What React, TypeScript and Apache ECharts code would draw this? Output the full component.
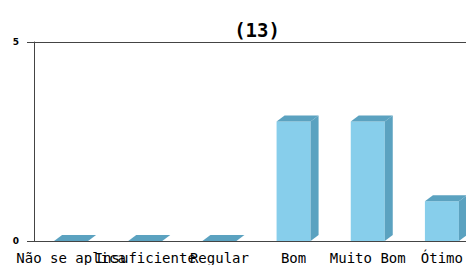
import React, { useEffect, useRef } from "react";
import * as echarts from "echarts";

const categories = ["Não se aplica", "Insuficiente", "Regular", "Bom", "Muito Bom", "Ótimo"];
const values = [0, 0, 0, 3, 3, 1];
const yTicks = [0, 5];
const titleText = "(13)";

export default function App() {
  const ref = useRef<HTMLDivElement>(null);
  useEffect(() => {
    if (!ref.current) return;
    const chart = echarts.init(ref.current, null, { renderer: "svg" });
    const halfW = 17;
    const dx = 8;
    const dy = 6;
    const front = "#87ceeb";
    const dark = "#5ba2c0";
    chart.setOption({
      animation: false,
      title: {
        text: titleText,
        left: 252,
        top: 15,
        textAlign: "center",
        textStyle: { fontFamily: "DejaVu Sans Mono", fontSize: 19, fontWeight: "bold", color: "#000" },
      },
      grid: { left: 34, top: 42, bottom: 24, width: 445, outerBoundsMode: "none", containLabel: false },
      xAxis: {
        type: "category",
        data: categories,
        axisLine: { show: true, lineStyle: { color: "#444", width: 1 } },
        axisTick: { show: false },
        axisLabel: {
          interval: 0,
          margin: 10,
          fontFamily: "DejaVu Sans Mono",
          fontSize: 14,
          color: "#000",
        },
        splitLine: { show: false },
      },
      yAxis: {
        type: "value",
        min: yTicks[0],
        max: yTicks[1],
        interval: 5,
        axisLine: { show: true, lineStyle: { color: "#444", width: 1 } },
        axisTick: { show: true, length: 7, lineStyle: { color: "#444" } },
        axisLabel: {
          margin: 15,
          fontFamily: "DejaVu Sans",
          fontWeight: "bold",
          fontSize: 9,
          color: "#000",
        },
        splitLine: { show: true, lineStyle: { color: "#444", width: 1 } },
      },
      series: [
        {
          type: "custom",
          clip: false,
          data: values.map((v, i) => [i, v]),
          encode: { x: 0, y: 1 },
          renderItem: (params: any, api: any) => {
            const idx = api.value(0);
            const val = api.value(1);
            const top = api.coord([idx, val]);
            const base = api.coord([idx, 0]);
            const cx = top[0];
            const ty = top[1];
            const by = base[1];
            const children: any[] = [];
            if (val > 0) {
              children.push({
                type: "rect",
                shape: { x: cx - halfW, y: ty, width: halfW * 2, height: by - ty },
                style: { fill: front },
              });
              children.push({
                type: "polygon",
                shape: {
                  points: [
                    [cx + halfW, ty],
                    [cx + halfW + dx, ty - dy],
                    [cx + halfW + dx, by - dy],
                    [cx + halfW, by],
                  ],
                },
                style: { fill: dark },
              });
            }
            children.push({
              type: "polygon",
              shape: {
                points: [
                  [cx - halfW, ty],
                  [cx - halfW + dx, ty - dy],
                  [cx + halfW + dx, ty - dy],
                  [cx + halfW, ty],
                ],
              },
              style: { fill: dark },
            });
            return { type: "group", children };
          },
        },
      ],
    });
    return () => chart.dispose();
  }, []);
  return <div ref={ref} style={{ width: 466, height: 265, position: "absolute", left: 0, top: 0 }} />;
}
